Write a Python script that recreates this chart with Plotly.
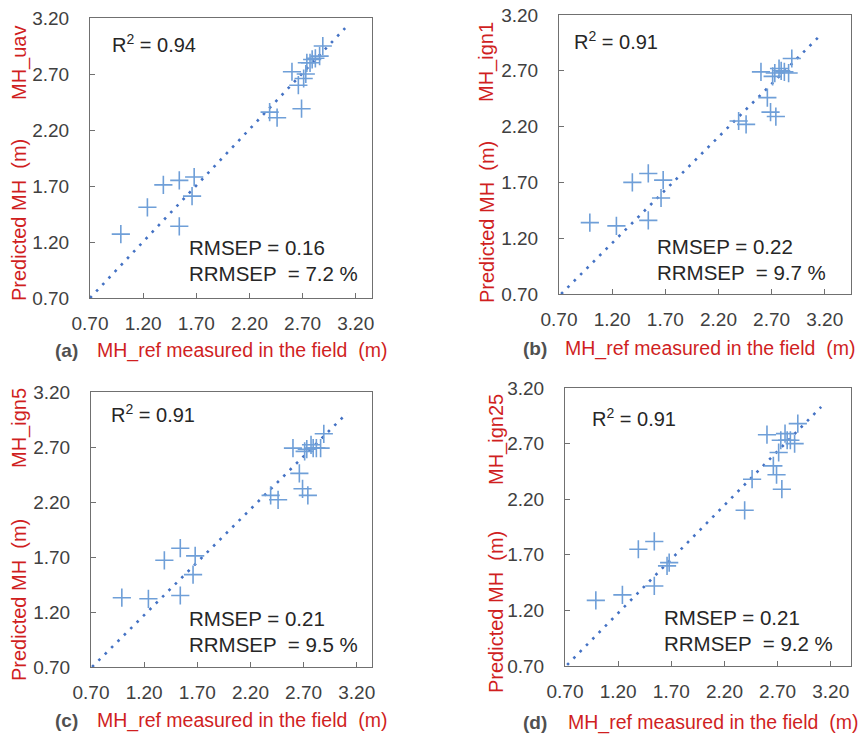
import plotly.graph_objects as go

# ---- data ----
mh_ref = [0.99, 1.24, 1.39, 1.54, 1.54, 1.66, 1.68, 2.39, 2.46, 2.60,
          2.66, 2.69, 2.71, 2.73, 2.74, 2.77, 2.79, 2.82, 2.86, 2.89]
mh_uav = [1.27, 1.51, 1.71, 1.75, 1.34, 1.61, 1.78, 2.36, 2.31, 2.72,
          2.60, 2.39, 2.66, 2.70, 2.80, 2.80, 2.83, 2.84, 2.86, 2.95]
mh_ign1 = [1.34, 1.31, 1.70, 1.78, 1.36, 1.56, 1.72, 2.25, 2.22, 2.69,
           2.46, 2.33, 2.65, 2.68, 2.29, 2.72, 2.70, 2.69, 2.68, 2.81]
mh_ign5 = [1.33, 1.32, 1.67, 1.78, 1.35, 1.54, 1.71, 2.26, 2.22, 2.69,
           2.46, 2.32, 2.66, 2.68, 2.26, 2.72, 2.69, 2.69, 2.69, 2.82]
mh_ign25 = [1.29, 1.34, 1.75, 1.82, 1.42, 1.60, 1.63, 2.10, 2.38, 2.78,
            2.50, 2.42, 2.62, 2.73, 2.29, 2.79, 2.73, 2.73, 2.70, 2.88]

series_names = ["MH_uav", "MH_ign1", "MH_ign5", "MH_ign25"]
series_values = [mh_uav, mh_ign1, mh_ign5, mh_ign25]
panel_labels = ["(a)", "(b)", "(c)", "(d)"]
r2_values = ["0.94", "0.91", "0.91", "0.91"]
rmsep_values = ["0.16", "0.22", "0.21", "0.21"]
rrmsep_values = ["7.2", "9.7", "9.5", "9.2"]
trend_x = [[0.70, 3.10], [0.72, 3.15], [0.71, 3.11], [0.72, 3.11]]
trend_y = [[0.70, 3.11], [0.70, 3.01], [0.70, 3.01], [0.71, 3.03]]
tick_vals = [0.70, 1.20, 1.70, 2.20, 2.70, 3.20]
tick_text = ["0.70", "1.20", "1.70", "2.20", "2.70", "3.20"]

# ---- layout geometry (pixels) ----
W, H = 863, 736
# left, right, top, bottom of plot areas
boxes = [(90, 372, 18, 298), (559, 851, 15, 294), (91, 372, 392, 667), (565, 851, 388, 666)]

FONT = "Arial, Liberation Sans, sans-serif"
RED = "#d01f1f"
GRAY = "#404040"
MARK = "#6f9fd8"
LINE = "#4472c4"
FRAME = "#707070"


def px(x):
    return x / W


def py(y):
    return 1 - y / H


fig = go.Figure()
layout = dict(width=W, height=H, margin=dict(l=0, r=0, t=0, b=0, pad=0),
              paper_bgcolor="white", plot_bgcolor="white", showlegend=False,
              font=dict(family=FONT, size=18, color=GRAY))
annotations = []

# label positions (pixels)
ytitle_x = [19, 487, 19, 496]
ytitle_main_y = [220, 222, 600, 612]
ytitle_series_y = [63, 62, 428, 440]
xtitle_y = [350, 348, 720, 722]
xlab_x = [66, 535, 66, 535]
xtitle_x = [242, 710, 242, 713]
r2_pos = [(110, 43), (572, 40), (109, 413), (590, 417)]
rm_pos = [(187, 248), (655, 246), (187, 618), (662, 617)]

for i in range(4):
    l, r, t, b = boxes[i]
    sfx = "" if i == 0 else str(i + 1)
    xa = "x" + sfx
    ya = "y" + sfx
    xmax = 0.70 + (r - l) / 106.3
    layout["xaxis" + sfx] = dict(
        domain=[px(l), px(r)], range=[0.70, xmax], anchor=ya, automargin=False,
        tickvals=tick_vals, ticktext=tick_text, ticks="inside", ticklen=5,
        tickcolor=FRAME, showgrid=False, zeroline=False,
        showline=True, linecolor=FRAME, linewidth=1, mirror=True,
        tickfont=dict(family=FONT, size=19, color=GRAY), ticklabelstandoff=8,
    )
    layout["yaxis" + sfx] = dict(
        domain=[py(b), py(t)], range=[0.70, 3.20], anchor=xa, automargin=False,
        tickvals=tick_vals, ticktext=tick_text, ticks="inside", ticklen=5,
        tickcolor=FRAME, showgrid=False, zeroline=False,
        showline=True, linecolor=FRAME, linewidth=1, mirror=True,
        tickfont=dict(family=FONT, size=19, color=GRAY), ticklabelstandoff=16,
    )
    fig.add_trace(go.Scatter(x=trend_x[i], y=trend_y[i], mode="lines", xaxis=xa, yaxis=ya,
                             line=dict(color=LINE, width=2.6, dash="2.6px,6.4px"),
                             hoverinfo="skip"))
    fig.add_trace(go.Scatter(x=mh_ref, y=series_values[i], mode="markers", xaxis=xa, yaxis=ya,
                             marker=dict(symbol="cross-thin", size=13,
                                         line=dict(color=MARK, width=1.6)),
                             name=series_names[i]))
    annotations.append(dict(text="Predicted MH  (m)", x=px(ytitle_x[i]), y=py(ytitle_main_y[i]),
                            xref="paper", yref="paper", textangle=-90, showarrow=False,
                            font=dict(family=FONT, size=20, color=RED),
                            xanchor="center", yanchor="middle"))
    annotations.append(dict(text=series_names[i], x=px(ytitle_x[i]), y=py(ytitle_series_y[i]),
                            xref="paper", yref="paper", textangle=-90, showarrow=False,
                            font=dict(family=FONT, size=20, color=RED),
                            xanchor="center", yanchor="middle"))
    annotations.append(dict(text="<b>" + panel_labels[i] + "</b>", x=px(xlab_x[i]), y=py(xtitle_y[i]),
                            xref="paper", yref="paper", showarrow=False,
                            font=dict(family=FONT, size=19, color="#505050"),
                            xanchor="center", yanchor="middle"))
    annotations.append(dict(text="MH_ref measured in the field  (m)", x=px(xtitle_x[i]),
                            y=py(xtitle_y[i]), xref="paper", yref="paper", showarrow=False,
                            font=dict(family=FONT, size=19.5, color=RED),
                            xanchor="center", yanchor="middle"))
    annotations.append(dict(text="R<sup>2</sup> = " + r2_values[i], x=px(r2_pos[i][0]), y=py(r2_pos[i][1]),
                            xref="paper", yref="paper", showarrow=False,
                            font=dict(family=FONT, size=20, color="#262626"),
                            xanchor="left", yanchor="middle"))
    annotations.append(dict(text="RMSEP = " + rmsep_values[i], x=px(rm_pos[i][0]), y=py(rm_pos[i][1]),
                            xref="paper", yref="paper", showarrow=False,
                            font=dict(family=FONT, size=20.5, color="#262626"),
                            xanchor="left", yanchor="middle"))
    annotations.append(dict(text="RRMSEP  = " + rrmsep_values[i] + " %", x=px(rm_pos[i][0]),
                            y=py(rm_pos[i][1] + 26), xref="paper", yref="paper", showarrow=False,
                            font=dict(family=FONT, size=20.5, color="#262626"),
                            xanchor="left", yanchor="middle"))

layout["annotations"] = annotations
fig.update_layout(**layout)
fig.write_html("out.html")
